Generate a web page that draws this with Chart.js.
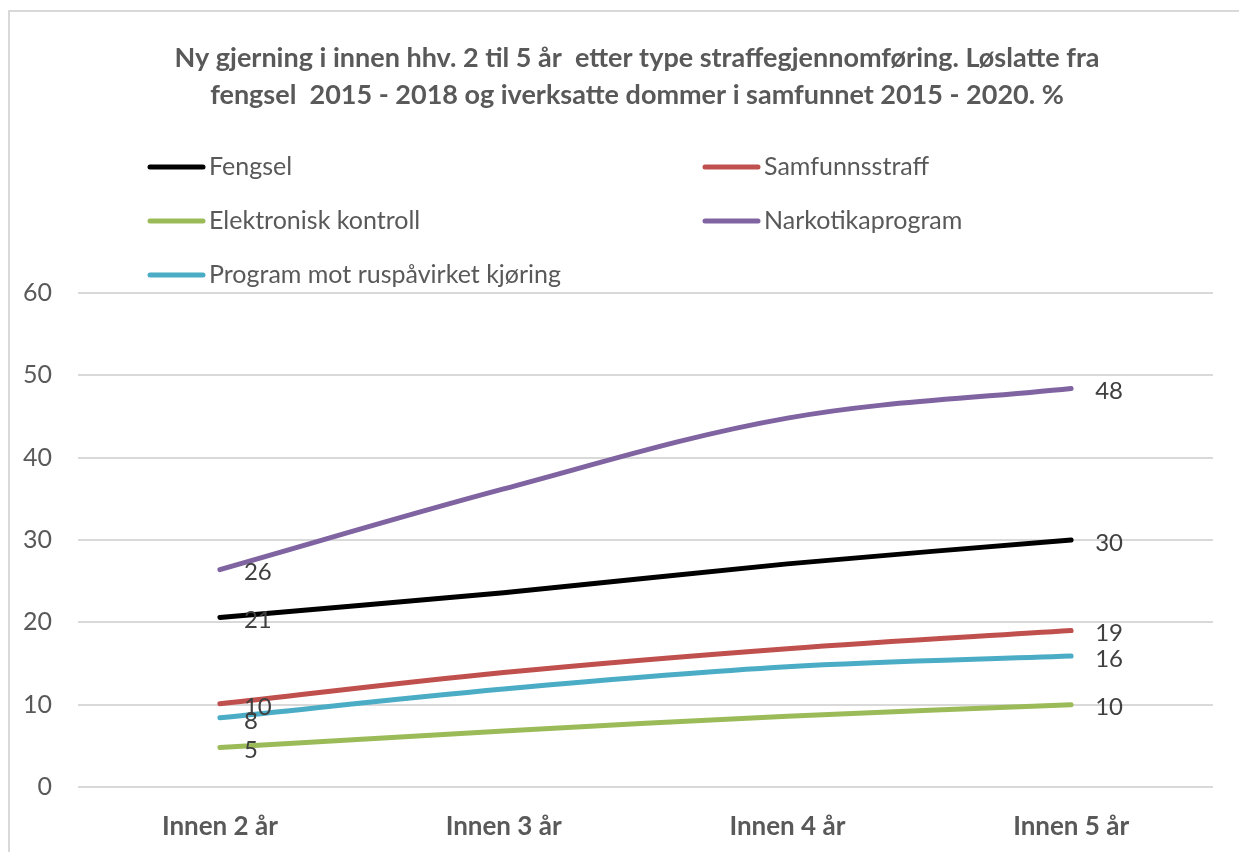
<!DOCTYPE html>
<html>
<head>
<meta charset="utf-8">
<script src="https://cdn.jsdelivr.net/npm/chart.js@4.4.0/dist/chart.umd.min.js"></script>
<style>
  html, body { margin: 0; padding: 0; background: #fff; }
  #wrap { position: relative; width: 1239px; height: 852px; }
</style>
</head>
<body>
<div id="wrap"><canvas id="lineChart"></canvas></div>
<script>
// chart data
const categories = ["Innen 2 år", "Innen 3 år", "Innen 4 år", "Innen 5 år"];
const fengsel = [20.6, 23.6, 27.1, 30.0];
const samfunnsstraff = [10.1, 13.9, 16.8, 19.0];
const elektronisk = [4.8, 6.8, 8.6, 10.0];
const narkotika = [26.4, 36.2, 44.8, 48.4];
const rusKjoring = [8.4, 11.9, 14.6, 15.9];
const yTicks = [0, 10, 20, 30, 40, 50, 60];
const labelAt = [0, 3]; // data labels only on first and last point

const titleLines = [
  "Ny gjerning i innen hhv. 2 til 5 år  etter type straffegjennomføring. Løslatte fra",
  "fengsel  2015 - 2018 og iverksatte dommer i samfunnet 2015 - 2020. %"
];

const FONT = "Lato, 'Open Sans', sans-serif";
const GREY = "#595959";

const makeSet = (label, data, color) => ({
  label: label,
  data: data,
  borderColor: color,
  backgroundColor: color,
  borderWidth: 5,
  borderCapStyle: "round",
  tension: 0.35,
  pointRadius: 0,
  fill: false,
});

// title, frame, legend and value labels
const decor = {
  id: "decor",
  beforeDraw(chart) {
    const ctx = chart.ctx;
    ctx.save();
    ctx.fillStyle = "#fff";
    ctx.fillRect(0, 0, chart.width, chart.height);
    ctx.strokeStyle = "#d9d9d9";
    ctx.lineWidth = 2;
    ctx.beginPath();
    ctx.moveTo(9, chart.height);
    ctx.lineTo(9, 11);
    ctx.lineTo(chart.width, 11);
    ctx.stroke();
    ctx.restore();
  },
  afterDraw(chart) {
    const ctx = chart.ctx;
    ctx.save();
    // title
    ctx.fillStyle = GREY;
    ctx.textAlign = "center";
    ctx.textBaseline = "middle";
    ctx.font = "bold 27px " + FONT;
    titleLines.forEach((t, i) => ctx.fillText(t, 637, 58 + i * 37));

    // legend, two columns
    ctx.textAlign = "left";
    ctx.font = "25px " + FONT;
    chart.data.datasets.forEach((ds, i) => {
      const x = 150 + (i % 2) * 555;
      const y = 167 + Math.floor(i / 2) * 54;
      ctx.strokeStyle = ds.borderColor;
      ctx.lineWidth = 5;
      ctx.lineCap = "round";
      ctx.beginPath();
      ctx.moveTo(x, y);
      ctx.lineTo(x + 53, y);
      ctx.stroke();
      ctx.fillStyle = GREY;
      ctx.fillText(ds.label, x + 59, y);
    });

    // value labels
    ctx.fillStyle = "#404040";
    ctx.font = "24px " + FONT;
    chart.data.datasets.forEach((ds, i) => {
      const meta = chart.getDatasetMeta(i);
      labelAt.forEach(j => {
        const p = meta.data[j];
        ctx.fillText(String(Math.round(ds.data[j])), p.x + 24, p.y + 3);
      });
    });
    ctx.restore();
  }
};

new Chart(document.getElementById("lineChart"), {
  type: "line",
  data: {
    labels: categories,
    datasets: [
      makeSet("Fengsel", fengsel, "#000000"),
      makeSet("Samfunnsstraff", samfunnsstraff, "#C0504D"),
      makeSet("Elektronisk kontroll", elektronisk, "#9BBB59"),
      makeSet("Narkotikaprogram", narkotika, "#8064A2"),
      makeSet("Program mot ruspåvirket kjøring", rusKjoring, "#4BACC6"),
    ],
  },
  options: {
    responsive: true,
    maintainAspectRatio: false,
    animation: false,
    layout: { padding: { top: 293, right: 26, bottom: 0, left: 0 } },
    plugins: {
      legend: { display: false },
      title: { display: false },
      tooltip: { enabled: false },
    },
    scales: {
      x: {
        offset: true,
        grid: { display: false, drawTicks: false },
        border: { display: false },
        ticks: { color: GREY, font: { family: FONT, size: 26, weight: "bold" }, padding: 24 },
        afterFit: (s) => { s.height = 65; },
      },
      y: {
        min: yTicks[0],
        max: yTicks[yTicks.length - 1],
        afterBuildTicks: (s) => { s.ticks = yTicks.map(v => ({ value: v })); },
        grid: { color: "#d9d9d9", lineWidth: 2, drawTicks: false },
        border: { display: false },
        ticks: { color: GREY, font: { family: FONT, size: 25 }, padding: 26 },
        afterFit: (s) => { s.width = 78; },
      },
    },
  },
  plugins: [decor],
});
</script>
</body>
</html>
